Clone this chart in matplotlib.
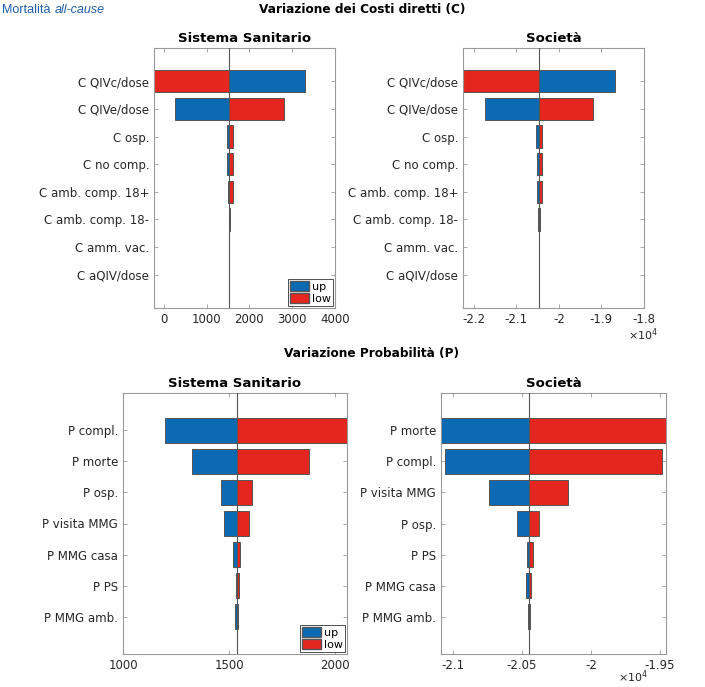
import matplotlib.pyplot as plt
import numpy as np
from matplotlib.patches import Patch
from matplotlib.ticker import FuncFormatter

plt.rcParams['font.family'] = ['DejaVu Sans']
plt.rcParams['axes.unicode_minus'] = False

# costi diretti (C)
c_labels = ["C QIVc/dose", "C QIVe/dose", "C osp.", "C no comp.",
            "C amb. comp. 18+", "C amb. comp. 18-", "C amm. vac.", "C aQIV/dose"]
ss_c_base = 1525
ss_c_up = [3310, 270, 1465, 1480, 1488, 1518, 1525, 1525]
ss_c_low = [-300, 2810, 1619, 1605, 1605, 1549, 1525, 1525]

soc_c_base = -20460
soc_c_up = [-18690, -21735, -20541, -20518, -20518, -20494, -20460, -20460]
soc_c_low = [-22400, -19197, -20391, -20400, -20400, -20450, -20460, -20460]

# probabilita (P)
p_ss_labels = ["P compl.", "P morte", "P osp.", "P visita MMG",
               "P MMG casa", "P PS", "P MMG amb."]
ss_p_base = 1536
ss_p_up = [1198, 1323, 1462, 1477, 1519, 1530, 1528]
ss_p_low = [2100, 1874, 1607, 1592, 1553, 1545, 1541]

p_soc_labels = ["P morte", "P compl.", "P visita MMG", "P osp.",
                "P PS", "P MMG casa", "P MMG amb."]
soc_p_base = -20449
soc_p_up = [-21150, -21058, -20734, -20534, -20462, -20469, -20455]
soc_p_low = [-19400, -19486, -20168, -20373, -20421, -20433, -20440]

BLUE = '#0b6ab1'
RED = '#e5261f'
W, H = 705, 687


def px_axes(fig, x0, x1, y0, y1):
    return fig.add_axes([x0 / W, (H - y1) / H, (x1 - x0) / W, (y1 - y0) / H])


def tornado(ax, labels, base, up, low, xlim, xticks, sci=False):
    n = len(labels)
    y = np.arange(1, n + 1)
    up = np.array(up, dtype=float)
    low = np.array(low, dtype=float)
    ax.barh(y, up - base, left=base, height=0.8, color=BLUE,
            edgecolor='#555555', linewidth=0.7, zorder=2)
    ax.barh(y, low - base, left=base, height=0.8, color=RED,
            edgecolor='#555555', linewidth=0.7, zorder=2)
    ax.axvline(base, color='#555555', linewidth=0.8, zorder=3)
    ax.set_xlim(*xlim)
    ax.set_ylim(n + 1.2, -0.2)
    ax.set_yticks(y)
    ax.set_yticklabels(labels)
    ax.set_xticks(xticks)
    if sci:
        ax.xaxis.set_major_formatter(FuncFormatter(lambda v, p: f"{v / 1e4:g}"))
    ax.tick_params(direction='in', length=3, width=0.6, top=True, right=True,
                   labelsize=8.5, colors='#999999', labelcolor='#262626')
    for s in ax.spines.values():
        s.set_color('#999999')
        s.set_linewidth(0.8)


fig = plt.figure(figsize=(W / 100, H / 100), dpi=100)

ax1 = px_axes(fig, 154, 335, 48, 308)
tornado(ax1, c_labels, ss_c_base, ss_c_up, ss_c_low, (-230, 4000),
        [0, 1000, 2000, 3000, 4000])
ax1.set_title("Sistema Sanitario", fontsize=9.5, fontweight='bold', pad=4)

ax2 = px_axes(fig, 463, 644, 48, 308)
tornado(ax2, c_labels, soc_c_base, soc_c_up, soc_c_low, (-22250, -18000),
        [-22000, -21000, -20000, -19000, -18000], sci=True)
ax2.set_title("Società", fontsize=9.5, fontweight='bold', pad=4)

ax3 = px_axes(fig, 123, 347, 393, 654)
tornado(ax3, p_ss_labels, ss_p_base, ss_p_up, ss_p_low, (1000, 2055),
        [1000, 1500, 2000])
ax3.set_title("Sistema Sanitario", fontsize=9.5, fontweight='bold', pad=4)

ax4 = px_axes(fig, 441, 666, 393, 654)
tornado(ax4, p_soc_labels, soc_p_base, soc_p_up, soc_p_low, (-21084, -19457),
        [-21000, -20500, -20000, -19500], sci=True)
ax4.set_title("Società", fontsize=9.5, fontweight='bold', pad=4)

handles = [Patch(facecolor=BLUE, edgecolor='#555555', label='up'),
           Patch(facecolor=RED, edgecolor='#555555', label='low')]
for ax in (ax1, ax3):
    leg = ax.legend(handles=handles, loc='lower right', fontsize=8,
                    handlelength=1.7, handleheight=1.0, borderpad=0.2,
                    labelspacing=0.05, handletextpad=0.2, borderaxespad=0.2,
                    fancybox=False, framealpha=1)
    leg.get_frame().set_edgecolor('#333333')
    leg.get_frame().set_linewidth(0.6)

fig.text(628 / W, 1 - 335 / H, r"$\times$10$^4$", fontsize=8, color='#262626',
         ha='left', va='center')
fig.text(618 / W, 1 - 677 / H, r"$\times$10$^4$", fontsize=8, color='#262626',
         ha='left', va='center')

fig.text(2 / W, 1 - 10 / H, "Mortalità", fontsize=9, color='#1f5fa8',
         ha='left', va='center', family='Liberation Sans')
fig.text(55 / W, 1 - 10 / H, "all-cause", fontsize=9, color='#1f5fa8',
         ha='left', va='center', style='italic', family='Liberation Sans')

fig.text(362 / W, 1 - 10 / H, "Variazione dei Costi diretti (C)", fontsize=8.7,
         fontweight='bold', ha='center', va='center')
fig.text(371 / W, 1 - 354 / H, "Variazione Probabilità (P)", fontsize=8.7,
         fontweight='bold', ha='center', va='center')

fig.savefig("out.png", dpi=100)
